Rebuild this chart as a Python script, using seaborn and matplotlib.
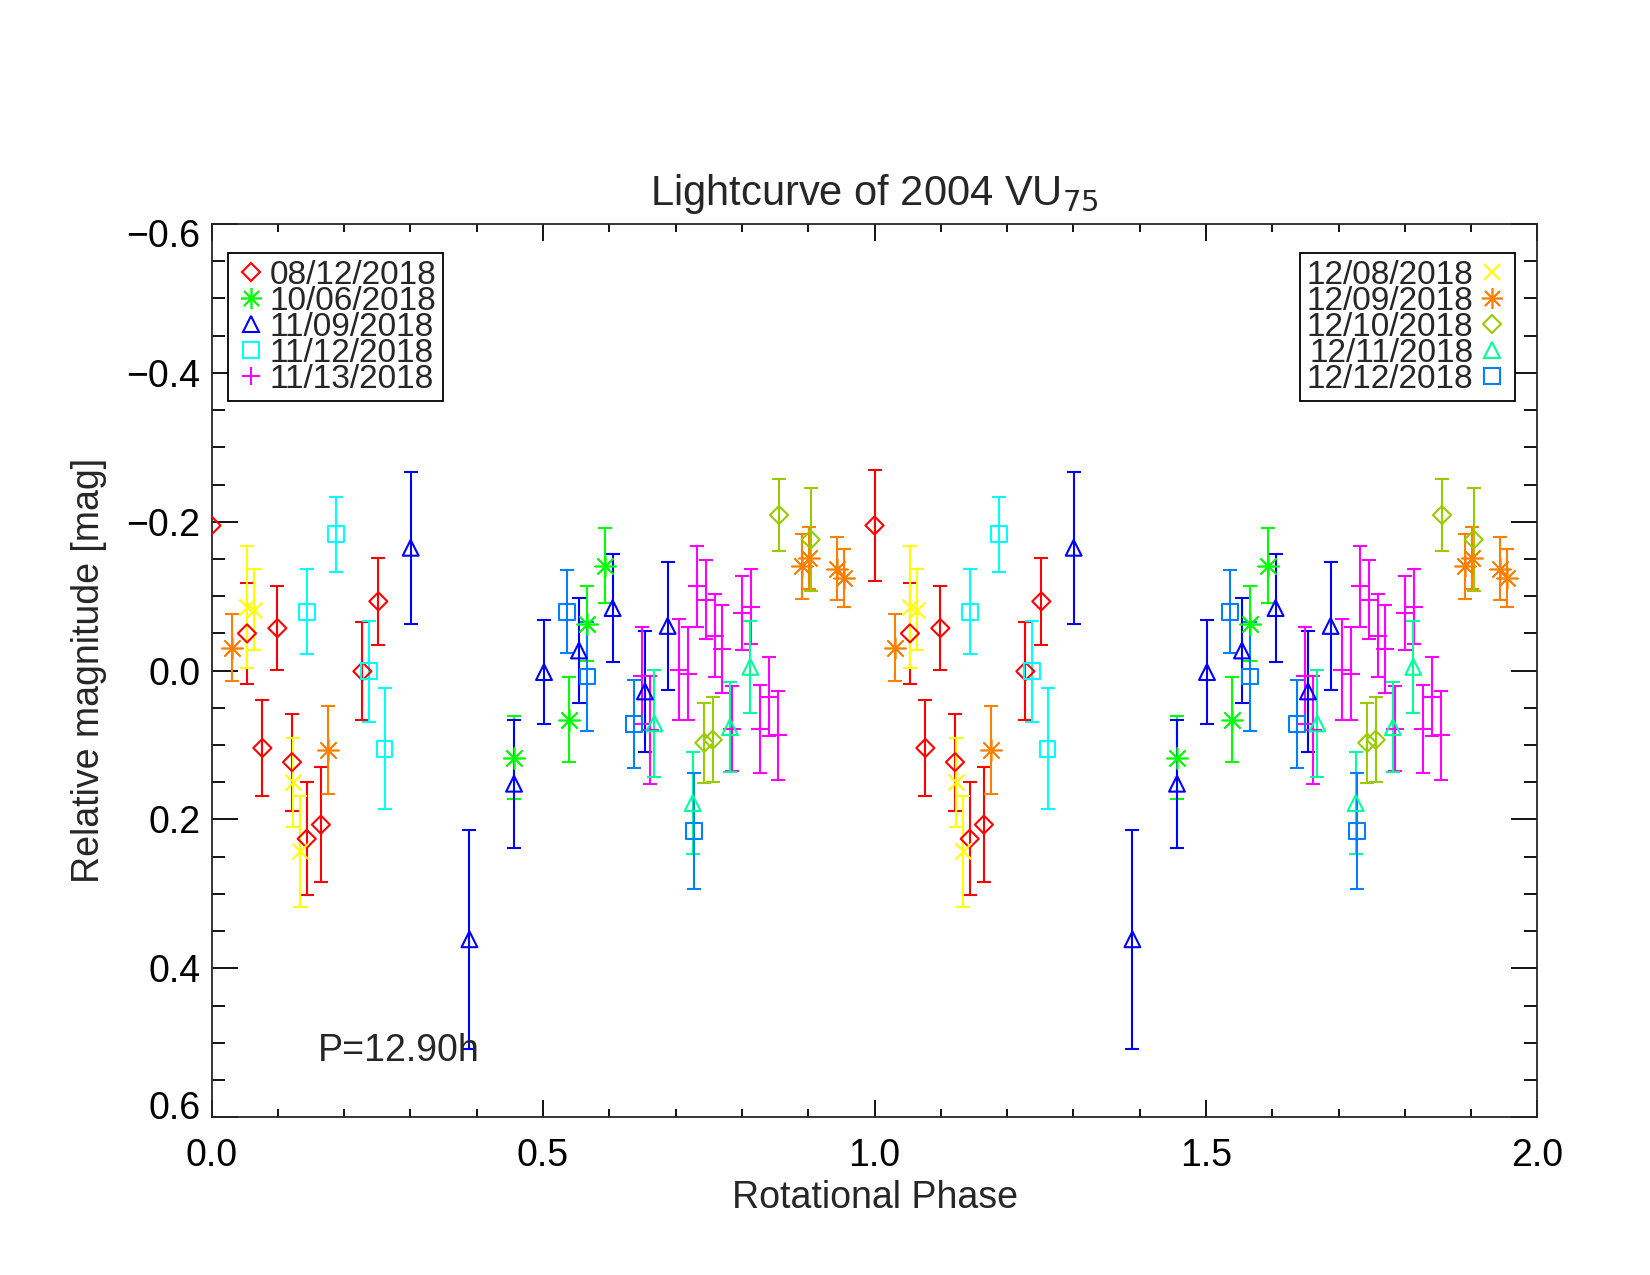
import numpy as np
import pandas as pd
import matplotlib
matplotlib.use("Agg")
import matplotlib.pyplot as plt
from matplotlib.lines import Line2D
from matplotlib.ticker import MultipleLocator
from matplotlib.transforms import ScaledTranslation
import seaborn as sns

# --- lightcurve data (phase in [0,1), relative magnitude, 1-sigma error) ---
dates = ["08/12/2018", "10/06/2018", "11/09/2018", "11/12/2018", "11/13/2018",
         "12/08/2018", "12/09/2018", "12/10/2018", "12/11/2018", "12/12/2018"]

phase_0812 = [0.000, 0.0535, 0.0767, 0.0993, 0.1214, 0.1436, 0.165, 0.2275, 0.2516]
mag_0812 = [-0.195, -0.050, 0.104, -0.057, 0.123, 0.226, 0.207, 0.001, -0.093]
err_0812 = [0.075, 0.068, 0.065, 0.056, 0.065, 0.076, 0.077, 0.066, 0.058]

phase_1006 = [0.4563, 0.539, 0.5668, 0.5935]
mag_1006 = [0.117, 0.066, -0.063, -0.141]
err_1006 = [0.056, 0.057, 0.050, 0.050]

phase_1109 = [0.3004, 0.389, 0.4563, 0.5015, 0.5543, 0.605, 0.6538, 0.688]
mag_1109 = [-0.165, 0.361, 0.152, 0.002, -0.027, -0.084, 0.028, -0.060]
err_1109 = [0.102, 0.147, 0.086, 0.070, 0.070, 0.072, 0.081, 0.086]

phase_1112 = [0.1445, 0.1873, 0.238, 0.261]
mag_1112 = [-0.079, -0.183, 0.001, 0.105]
err_1112 = [0.057, 0.050, 0.068, 0.081]

phase_1113 = [0.649, 0.6614, 0.7056, 0.718, 0.7318, 0.7454, 0.7594, 0.7695,
              0.7846, 0.8006, 0.8137, 0.8273, 0.8409, 0.855]
mag_1113 = [0.007, 0.080, -0.001, 0.004, -0.113, -0.095, -0.047, -0.029,
            0.078, -0.077, -0.086, 0.078, 0.035, 0.087]
err_1113 = [0.065, 0.073, 0.068, 0.062, 0.054, 0.053, 0.056, 0.059,
            0.057, 0.050, 0.050, 0.059, 0.053, 0.060]

phase_1208 = [0.0535, 0.064, 0.1225, 0.1335]
mag_1208 = [-0.086, -0.082, 0.150, 0.243]
err_1208 = [0.082, 0.055, 0.060, 0.075]

phase_1209 = [0.0305, 0.175, 0.890, 0.9017, 0.944, 0.9545]
mag_1209 = [-0.031, 0.107, -0.140, -0.151, -0.137, -0.124]
err_1209 = [0.045, 0.059, 0.044, 0.042, 0.042, 0.039]

phase_1210 = [0.7433, 0.756, 0.856, 0.9037]
mag_1210 = [0.097, 0.093, -0.209, -0.176]
err_1210 = [0.054, 0.057, 0.048, 0.069]

phase_1211 = [0.668, 0.7258, 0.782, 0.8127]
mag_1211 = [0.071, 0.178, 0.076, -0.005]
err_1211 = [0.072, 0.069, 0.060, 0.062]

phase_1212 = [0.5367, 0.567, 0.6377, 0.728]
mag_1212 = [-0.079, 0.008, 0.072, 0.215]
err_1212 = [0.056, 0.073, 0.059, 0.078]

all_phase = [phase_0812, phase_1006, phase_1109, phase_1112, phase_1113,
             phase_1208, phase_1209, phase_1210, phase_1211, phase_1212]
all_mag = [mag_0812, mag_1006, mag_1109, mag_1112, mag_1113,
           mag_1208, mag_1209, mag_1210, mag_1211, mag_1212]
all_err = [err_0812, err_1006, err_1109, err_1112, err_1113,
           err_1208, err_1209, err_1210, err_1211, err_1212]

colors = ["#ff0000", "#00ff00", "#0000ff", "#00ffff", "#ff00ff",
          "#ffff00", "#ff8000", "#99cc00", "#00ff99", "#0080ff"]
markers = ["D", (8, 2, 0), "^", "s", "+", "x", (8, 2, 0), "D", "^", "s"]
sizes = [85, 230, 130, 130, 160, 130, 230, 85, 130, 130]

sns.set_style("ticks")
plt.rcParams["font.family"] = ["Liberation Sans", "DejaVu Sans"]
plt.rcParams["axes.linewidth"] = 1.3

fig = plt.figure(figsize=(16.5, 12.75), dpi=100)
ax = fig.add_axes([0.1282, 0.1238, 0.8036, 0.7005])

handles = []
for i in range(len(dates)):
    ph = np.array(all_phase[i])
    df = pd.DataFrame({
        "phase": np.concatenate([ph, ph + 1.0]),
        "mag": np.concatenate([all_mag[i], all_mag[i]]),
        "err": np.concatenate([all_err[i], all_err[i]]),
    })
    eb = df[df["phase"] > 0]
    ax.errorbar(eb["phase"], eb["mag"], yerr=eb["err"], fmt="none",
                ecolor=colors[i], elinewidth=1.5, capsize=5, capthick=1.5, zorder=2)
    mk = markers[i]
    lw = 1.2 if isinstance(mk, tuple) else 1.5
    if mk in ["D", "^", "s"]:
        sns.scatterplot(data=df, x="phase", y="mag", marker=mk, s=sizes[i],
                        fc="none", ec=colors[i], linewidth=lw, ax=ax, zorder=3)
    else:
        sns.scatterplot(data=df, x="phase", y="mag", marker=mk, s=sizes[i],
                        color=colors[i], linewidth=lw, ax=ax, zorder=3)
    handles.append(Line2D([], [], linestyle="none", marker=mk, markersize=np.sqrt(sizes[i]),
                          markerfacecolor="none", markeredgecolor=colors[i],
                          markeredgewidth=lw, label=dates[i]))

ax.set_xlim(0, 2)
ax.set_ylim(0.6, -0.6)
ax.xaxis.set_major_locator(MultipleLocator(0.5))
ax.xaxis.set_minor_locator(MultipleLocator(0.1))
ax.yaxis.set_major_locator(MultipleLocator(0.2))
ax.yaxis.set_minor_locator(MultipleLocator(0.05))
ax.xaxis.set_major_formatter(lambda v, p: f"{v:.1f}")
ax.yaxis.set_major_formatter(lambda v, p: f"{v:.1f}".replace("-", "\u2212"))
ax.tick_params(axis="both", which="both", direction="in", top=True, right=True,
               labelsize=27, colors="black")
ax.tick_params(axis="x", which="major", length=12, width=1.3, pad=15)
ax.tick_params(axis="x", which="minor", length=6, width=1.3)
ax.tick_params(axis="y", which="major", length=19, width=1.3, pad=8)
ax.tick_params(axis="y", which="minor", length=9.5, width=1.3)
ax.set_xlabel("")
ax.set_ylabel("")
fig.canvas.draw()
# end labels of the y axis are pulled inside the plot range, as in the original
for lab in ax.get_yticklabels():
    if lab.get_text() == "\u22120.6":
        lab.set_transform(lab.get_transform() + ScaledTranslation(0, -6.8 / 72, fig.dpi_scale_trans))
    elif lab.get_text() == "0.6":
        lab.set_transform(lab.get_transform() + ScaledTranslation(0, 9.0 / 72, fig.dpi_scale_trans))

ax.set_title("Lightcurve of 2004 VU$_{75}$", fontsize=30, pad=14)
ax.set_xlabel("Rotational Phase", fontsize=27, labelpad=4)
ax.set_ylabel("Relative magnitude [mag]", fontsize=27, labelpad=14)

ax.text(0.16, 0.511, "P=12.90h", fontsize=27, ha="left", va="center")

leg_kw = dict(frameon=True, fancybox=False, framealpha=1, edgecolor="black",
              fontsize=24, borderaxespad=0, handlelength=0.98, handletextpad=0.06,
              borderpad=0.2, labelspacing=-0.15)
leg1 = ax.legend(handles=handles[:5], loc="upper left", bbox_to_anchor=(0.0124, 0.9676), **leg_kw)
leg1.get_frame().set_linewidth(1.3)
ax.add_artist(leg1)
leg2 = ax.legend(handles=handles[5:], loc="upper right", bbox_to_anchor=(0.983, 0.9676),
                 markerfirst=False, **leg_kw)
leg2.get_frame().set_linewidth(1.3)

plt.savefig("out.png", dpi=100)
